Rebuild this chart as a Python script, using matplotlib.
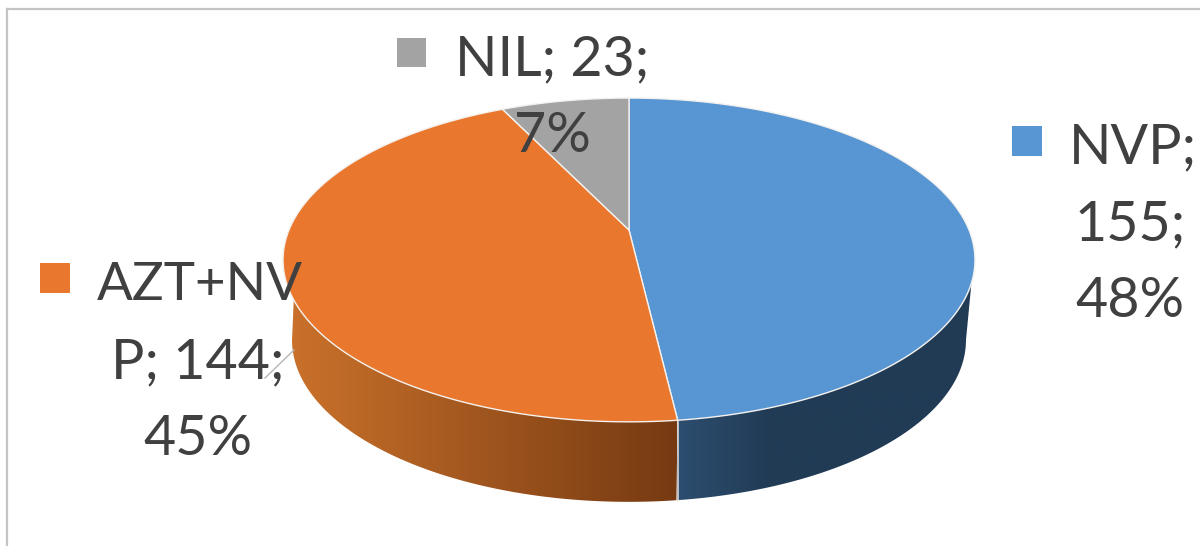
import numpy as np
import matplotlib
matplotlib.use("Agg")
import matplotlib.pyplot as plt
from matplotlib.colors import to_rgb
from matplotlib.patches import Polygon, Rectangle

# data
categories = ["NVP", "AZT+NVP", "NIL"]
values = [155, 144, 23]
percents = ["48%", "45%", "7%"]
colors = ["#5796d3", "#e9772e", "#a3a3a3"]

plt.rcParams["font.family"] = ["Lato", "DejaVu Sans"]

fig = plt.figure(figsize=(12, 5.46), dpi=100)
ax = fig.add_axes([0, 0, 1, 1])

# pie sits in a perspective view, so the circle goes through a projection
cx, cy = 629, 230
R = 340
depth = 80


def project(theta, lower=False):
    # theta in degrees, clockwise from the top
    t = np.radians(theta)
    u, v = np.sin(t), -np.cos(t)
    w = 1 - 0.185 * v
    x = R * u / w
    y = (113.8 * v + cy) / w
    if lower:
        return cx + x * 0.974, y + depth
    return cx + x, y


def gradient_side(top_range, low_range, xs, cols):
    xt, yt = project(np.linspace(top_range[0], top_range[1], 120))
    xb, yb = project(np.linspace(low_range[0], low_range[1], 120), lower=True)
    pts = np.vstack([np.column_stack([xt, yt]), np.column_stack([xb, yb])[::-1]])
    poly = Polygon(pts, closed=True, fc="none", ec="none", transform=ax.transData)
    ax.add_patch(poly)
    grid = np.arange(xs[0], xs[-1] + 1)
    rgb = np.array([to_rgb(c) for c in cols])
    img = np.stack([np.interp(grid, xs, rgb[:, i]) for i in range(3)], axis=-1)[None, :, :]
    im = ax.imshow(img, extent=[xs[0], xs[-1], 510, 270], aspect="auto", zorder=1,
                   interpolation="bilinear")
    im.set_clip_path(poly)


fracs = np.cumsum([0] + values) / sum(values) * 360

# sides, only the front ones show. lower rim runs on to its own silhouette
gradient_side((108.6, fracs[1]), (100.7, fracs[1]), [677, 770, 975], ["#2d4e70", "#213b55", "#213b55"])
gradient_side((fracs[1], 245.6), (fracs[1], 259.3), [285, 677], ["#cb722b", "#763a12"])
ax.plot([677.5, 677.5], [421, 501], color="#e8e4e0", lw=1.1, zorder=2)

# top of the pie
for i in range(len(values)):
    th = np.linspace(fracs[i], fracs[i + 1], 200)
    x, y = project(th)
    pts = np.vstack([[cx, cy], np.column_stack([x, y])])
    ax.add_patch(Polygon(pts, closed=True, fc=colors[i], ec="#f4f1ee", lw=1.0, zorder=3,
                         joinstyle="round"))

# frame of the original chart area
ax.plot([6.5, 6.5], [546, 9], color="#c4c4c4", lw=1.6, zorder=1)
ax.plot([6.5, 1200], [9, 9], color="#c4c4c4", lw=1.6, zorder=1)

# leader line of the orange label
ax.plot([265, 294], [378, 350], color="#b5b5b5", lw=1, zorder=4)

# data labels, wrapped like in the source
label_color = "#404040"
fs = 40
lab_nil = f"{categories[2]}; {values[2]};"
lab_nvp = [f"{categories[0]};", f"{values[0]};", percents[0]]
lab_azt = [categories[1][:6], f"{categories[1][6:]}; {values[1]};", percents[1]]

ax.add_patch(Rectangle((397, 38), 29, 29, fc=colors[2], ec="none", zorder=5))
ax.text(455, 75, lab_nil, fontsize=fs, color=label_color, va="baseline", zorder=6)
ax.text(552, 152, percents[2], fontsize=fs, color=label_color, va="baseline", ha="center", zorder=6)

ax.add_patch(Rectangle((1012, 126), 30, 30, fc=colors[0], ec="none", zorder=5))
for s, xp, yp in zip(lab_nvp, [1069, 1075, 1075], [163, 240, 317]):
    ax.text(xp, yp, s, fontsize=fs, color=label_color, va="baseline", zorder=6)

ax.add_patch(Rectangle((40, 263), 30, 30, fc=colors[1], ec="none", zorder=5))
for s, xp, yp, size in zip(lab_azt, [97, 111, 143], [300, 378, 455], [38.2, fs, fs]):
    ax.text(xp, yp, s, fontsize=size, color=label_color, va="baseline", zorder=6)

ax.set_xlim(0, 1200)
ax.set_ylim(546, 0)
ax.axis("off")
fig.savefig("out.png", dpi=100, facecolor="white")
